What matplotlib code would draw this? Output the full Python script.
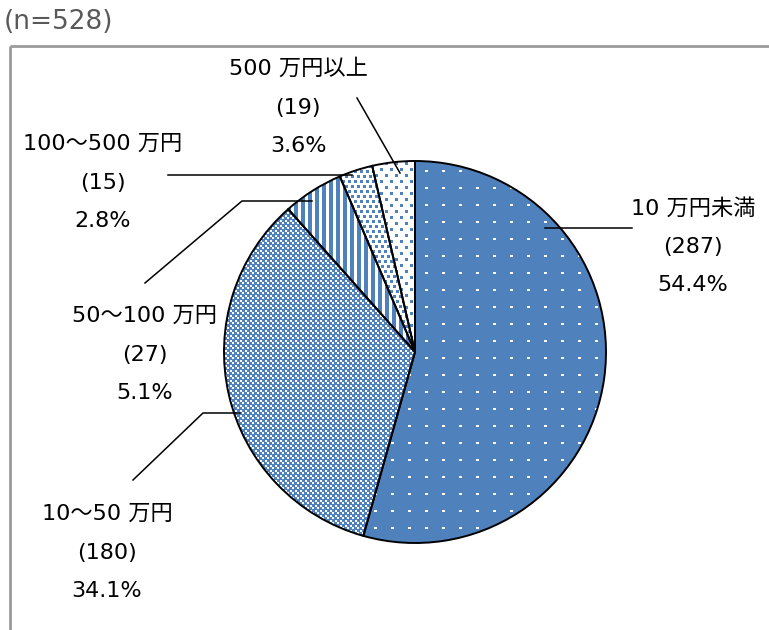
import numpy as np
import matplotlib
matplotlib.use('Agg')
import matplotlib.pyplot as plt

plt.rcParams['font.family'] = ['DejaVu Sans', 'Noto Sans CJK JP']

# データ（時計回り、12時の位置から）
labels = ['10 万円未満', '10〜50 万円', '50〜100 万円', '100〜500 万円', '500 万円以上']
counts = [287, 180, 27, 15, 19]
n_total = 528

W, H = 769, 630
blue = np.array([79, 129, 189]) / 255.0

# テクスチャ（Excel のパターン塗りの代わり）
yy, xx = np.mgrid[0:H, 0:W]


def make_tex(mask_blue):
    tex = np.ones((H, W, 3))
    tex[mask_blue] = blue
    return tex


mx, my = xx % 5, yy % 5
check_white = ((mx < 2) & (my < 2)) | ((mx >= 2) & (mx < 4) & (my >= 2) & (my < 4))

tex_dots = make_tex(~((xx % 17 < 3) & (yy % 17 < 2)))
tex_check = make_tex(~check_white)
tex_stripe = make_tex(xx % 7 < 4)
tex_dense = make_tex(((xx + 3 * ((yy // 5) % 2)) % 6 < 3) & (yy % 5 < 3))
tex_sparse = make_tex(((xx + 5 * ((yy // 6) % 2)) % 10 < 3) & (yy % 6 < 3))
textures = [tex_dots, tex_check, tex_stripe, tex_dense, tex_sparse]

fig = plt.figure(figsize=(W / 100, H / 100), dpi=100)
ax = fig.add_axes([0, 0, 1, 1])

wedges, _ = ax.pie(counts, startangle=-90, counterclock=True,
                   center=(415, 352), radius=191,
                   colors=['none'] * len(counts),
                   wedgeprops=dict(edgecolor='black', linewidth=1.4))

for w, tex in zip(wedges, textures):
    im = ax.imshow(tex, extent=(0, W, H, 0), interpolation='nearest', zorder=0.5)
    im.set_clip_path(w)

# 枠線
ax.plot([10, W], [46, 46], color='#9a9a9a', lw=2, solid_capstyle='butt')
ax.plot([10, 10], [46, H], color='#9a9a9a', lw=2, solid_capstyle='butt')

# 引き出し線
leaders = [
    ([545, 632], [228, 228]),
    ([133, 203, 240], [480, 413, 413]),
    ([145, 242, 312], [283, 201, 201]),
    ([168, 352], [175, 175]),
    ([357, 400], [98, 173]),
]
for lx, ly in leaders:
    ax.plot(lx, ly, color='black', lw=1.1)

# ラベル
label_pos = [(693, 208), (107, 514), (145, 316), (103, 144), (298, 69)]
for i, (x, y) in enumerate(label_pos):
    pct = '%.1f%%' % (counts[i] / n_total * 100)
    for k, s in enumerate([labels[i], '(%d)' % counts[i], pct]):
        ax.text(x, y + k * 38.7, s, ha='center', va='center', fontsize=16, color='black')

ax.text(4, 22, '(n=%d)' % n_total, ha='left', va='center', fontsize=19, color='#595959')

ax.set_xlim(0, W)
ax.set_ylim(H, 0)
ax.set_axis_off()

fig.savefig('out.png', dpi=100)
